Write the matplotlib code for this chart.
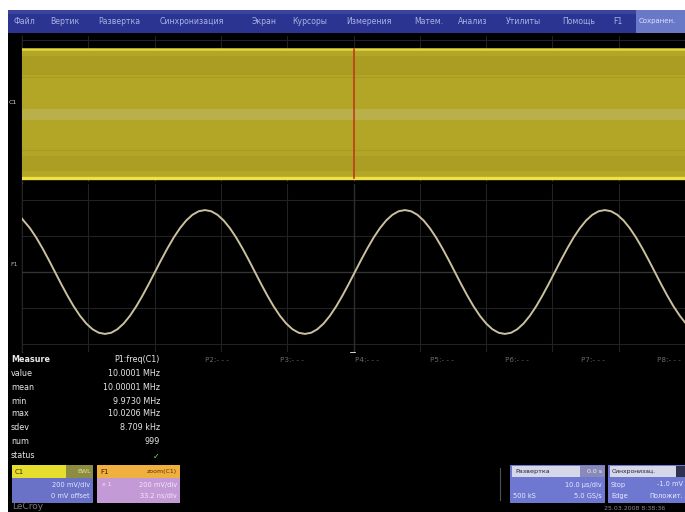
import matplotlib
matplotlib.use("Agg")
import matplotlib.pyplot as plt
from matplotlib.patches import Rectangle, Polygon

plt.rcParams['font.family'] = ['DejaVu Sans']

menu_items = ["Файл", "Вертик", "Развертка", "Синхронизация", "Экран", "Курсоры",
              "Измерения", "Матем.", "Анализ", "Утилиты", "Помощь", "F1"]
menu_active = "Сохранен."

# C1 (top trace): compressed 10 MHz sine -> filled envelope, in divisions
c1_t_ns = [0.0, 331.6]
c1_max_div = [1.75, 1.75]
c1_min_div = [-1.75, -1.75]

# F1 (zoom of C1), time in ns, amplitude in divisions
f1_t_ns = [0.0, 4.0, 7.125, 10.25, 13.375, 16.5, 19.625, 22.75, 25.875, 29.0, 32.125,
           35.25, 38.375, 41.5, 44.625, 47.75, 50.875, 54.0, 57.125, 60.25, 63.375,
           66.5, 69.625, 72.75, 75.875, 79.0, 82.125, 85.25, 88.375, 91.5, 94.625,
           97.75, 100.875, 104.0, 107.125, 110.25, 113.375, 116.5, 119.625, 122.75,
           125.875, 129.0, 132.125, 135.25, 138.375, 141.5, 144.625, 147.75, 150.875,
           154.0, 157.125, 160.25, 163.375, 166.5, 169.625, 172.75, 175.875, 179.0,
           182.125, 185.25, 188.375, 191.5, 194.625, 197.75, 200.875, 204.0, 207.125,
           210.25, 213.375, 216.5, 219.625, 222.75, 225.875, 229.0, 232.125, 235.25,
           238.375, 241.5, 244.625, 247.75, 250.875, 254.0, 257.125, 260.25, 263.375,
           266.5, 269.625, 272.75, 275.875, 279.0, 282.125, 285.25, 288.375, 291.5,
           294.625, 297.75, 300.875, 304.0, 307.125, 310.25, 313.375, 316.5, 319.625,
           322.75, 325.875, 329.0, 331.6]
f1_div = [1.48,
          1.216, 0.956, 0.658, 0.336, 0.0, -0.336, -0.658, -0.956, -1.216, -1.430,
          -1.589, -1.687, -1.72, -1.687, -1.589, -1.430, -1.216, -0.956, -0.658,
          -0.336, 0.0, 0.336, 0.658, 0.956, 1.216, 1.430, 1.589, 1.687, 1.72, 1.687,
          1.589, 1.430,
          1.216, 0.956, 0.658, 0.336, 0.0, -0.336, -0.658, -0.956, -1.216, -1.430,
          -1.589, -1.687, -1.72, -1.687, -1.589, -1.430, -1.216, -0.956, -0.658,
          -0.336, 0.0, 0.336, 0.658, 0.956, 1.216, 1.430, 1.589, 1.687, 1.72, 1.687,
          1.589, 1.430,
          1.216, 0.956, 0.658, 0.336, 0.0, -0.336, -0.658, -0.956, -1.216, -1.430,
          -1.589, -1.687, -1.72, -1.687, -1.589, -1.430, -1.216, -0.956, -0.658,
          -0.336, 0.0, 0.336, 0.658, 0.956, 1.216, 1.430, 1.589, 1.687, 1.72, 1.687,
          1.589, 1.430,
          1.216, 0.956, 0.658, 0.336, 0.0, -0.336, -0.658, -0.956, -1.216,
          -1.40]

meas_labels = ["Measure", "value", "mean", "min", "max", "sdev", "num", "status"]
meas_values = ["P1:freq(C1)", "10.0001 MHz", "10.00001 MHz", "9.9730 MHz",
               "10.0206 MHz", "8.709 kHz", "999", "✓"]
param_slots = ["P2:- - -", "P3:- - -", "P4:- - -", "P5:- - -", "P6:- - -",
               "P7:- - -", "P8:- - -"]

W, H = 685, 512
fig = plt.figure(figsize=(W / 100, H / 100), dpi=100, facecolor="white")
bg = fig.add_axes([0, 0, 1, 1])
bg.set_xlim(0, W)
bg.set_ylim(H, 0)
bg.axis("off")


def px_axes(x0, y0, x1, y1):
    return fig.add_axes([x0 / W, 1 - y1 / H, (x1 - x0) / W, (y1 - y0) / H])


def rect(x0, y0, x1, y1, color, z=1, **kw):
    bg.add_patch(Rectangle((x0, y0), x1 - x0, y1 - y0, facecolor=color,
                           edgecolor="none", zorder=z, **kw))


# screen background
rect(8, 10, W, H, "black", z=0)

# menu bar
rect(8, 10, W, 33, "#2b3490", z=1)
rect(8, 10, W, 14, "#3a44a0", z=1)
rect(636, 10, W, 33, "#6a78c8", z=2)
menu_x = [14, 50, 98, 160, 252, 292, 346, 414, 458, 506, 562, 613]
for txt, x in zip(menu_items, menu_x):
    bg.text(x, 21.5, txt, color="#a9b3e6", fontsize=5.6, va="center", ha="left", zorder=3)
bg.text(639, 21.5, menu_active, color="#dde2ff", fontsize=5.0, va="center", ha="left",
        zorder=3)

GRID = "#222222"
CENTER = "#333333"
XMAX = 331.6
div_t = [XMAX * k / 10 for k in range(11)]

# ---------------- top panel (C1) ----------------
ax1 = px_axes(22, 36, W, 182)
ax1.set_facecolor("black")
ax1.set_xlim(0, XMAX)
ax1.set_ylim(-1.86, 2.10)
for t in div_t:
    ax1.axvline(t, color=GRID, lw=0.8, zorder=1)
for v in (-1, 0, 1, 2):
    ax1.axhline(v, color=GRID, lw=0.8, zorder=1)
ax1.fill_between(c1_t_ns, c1_min_div, c1_max_div, color="#b3a526", zorder=2, lw=0)
ax1.fill_between(c1_t_ns, [1.05, 1.05], [1.55, 1.55], color="#ab9d21", zorder=3, lw=0)
ax1.fill_between(c1_t_ns, [-0.18, -0.18], [0.12, 0.12], color="#bab04a", zorder=3, lw=0)
ax1.fill_between(c1_t_ns, [-1.55, -1.55], [-1.15, -1.15], color="#ac9e23", zorder=3, lw=0)
ax1.plot(c1_t_ns, c1_max_div, color="#e6d73c", lw=1.8, zorder=4)
ax1.plot(c1_t_ns, c1_min_div, color="#f0e245", lw=2.4, zorder=4)
for v in (-1, 1):
    ax1.axhline(v, color="#a89a22", lw=0.8, zorder=3)
ax1.plot([XMAX / 2, XMAX / 2], [c1_min_div[0], c1_max_div[0]], color="#c23a1c",
         lw=1.2, zorder=5)
for s in ax1.spines.values():
    s.set_visible(False)
ax1.set_xticks([])
ax1.set_yticks([])

# ---------------- bottom panel (F1) ----------------
ax2 = px_axes(22, 184, W, 352)
ax2.set_facecolor("black")
ax2.set_xlim(0, XMAX)
ax2.set_ylim(-2.222, 2.444)
for t in div_t:
    ax2.axvline(t, color=GRID, lw=0.8, zorder=1)
for v in (-2, -1, 1, 2):
    ax2.axhline(v, color=GRID, lw=0.8, zorder=1)
ax2.axhline(0, color=CENTER, lw=1.0, zorder=1)
ax2.axvline(XMAX / 2, color="#2e2e2e", lw=1.0, zorder=1)
ax2.plot(f1_t_ns, f1_div, color="#cbc19e", lw=1.4, zorder=3, solid_joinstyle="round")
for s in ax2.spines.values():
    s.set_visible(False)
ax2.set_xticks([])
ax2.set_yticks([])

# left edge line of the grid
bg.plot([22, 22], [36, 352], color="#3a3a3a", lw=1.0, zorder=5)

# markers
bg.add_patch(Polygon([[350, 192], [356, 192], [353, 184]], closed=True,
                     facecolor="#d8d070", edgecolor="none", zorder=6))
bg.add_patch(Polygon([[350, 353], [356, 353], [353, 345]], closed=True,
                     facecolor="#d0d0d0", edgecolor="none", zorder=6))
rect(37, 83, 68, 90, "#d8d2a0", z=6, alpha=0.8)
rect(23, 102, 32, 110, "#a8b0c8", z=6, alpha=0.9)
bg.text(9, 103, "C1", color="#d0d0d0", fontsize=4.5, va="center", ha="left", zorder=6)
bg.text(10, 265, "F1", color="#b0b0b0", fontsize=4.5, va="center", ha="left", zorder=6)

# ---------------- measurement table ----------------
row_y = [359, 373, 387, 401, 414, 428, 442, 456]
for i, (lab, val, y) in enumerate(zip(meas_labels, meas_values, row_y)):
    bg.text(11, y, lab, color="#e8e8e8", fontsize=5.8, va="center", ha="left",
            fontweight="bold" if i == 0 else "normal", zorder=6)
    col = "#7fd860" if val == "✓" else "#e8e8e8"
    bg.text(160, y, val, color=col, fontsize=5.8, va="center", ha="right",
            fontweight="bold" if val == "✓" else "normal", zorder=6)
slot_x = [205, 280, 355, 430, 505, 581, 657]
for txt, x in zip(param_slots, slot_x):
    bg.text(x, 360, txt, color="#6a6a6a", fontsize=5.2, va="center", ha="left", zorder=6)

# ---------------- bottom info boxes ----------------
# C1 box
rect(12, 465, 66, 478, "#e6de2c", z=6)
rect(66, 465, 93, 478, "#8e8c40", z=6)
rect(12, 478, 93, 503, "#6a72c8", z=6)
bg.text(15, 471.5, "C1", color="#303000", fontsize=5, va="center", ha="left", zorder=7)
bg.text(91, 471.5, "BWL", color="#e0e0a0", fontsize=4.5, va="center", ha="right", zorder=7)
bg.text(90, 484.5, "200 mV/div", color="#e6e8ff", fontsize=4.8, va="center", ha="right", zorder=7)
bg.text(90, 496, "0 mV offset", color="#e6e8ff", fontsize=4.8, va="center", ha="right", zorder=7)

# F1 box
rect(97, 465, 180, 478, "#f0b040", z=6)
rect(97, 478, 180, 503, "#c49ad6", z=6)
bg.text(100, 471.5, "F1", color="#402000", fontsize=5, va="center", ha="left", zorder=7)
bg.text(177, 471.5, "zoom(C1)", color="#603000", fontsize=4.5, va="center", ha="right", zorder=7)
bg.text(102, 484.5, "x 1", color="#f4e6fa", fontsize=4.5, va="center", ha="left", zorder=7)
bg.text(177, 484.5, "200 mV/div", color="#f4e6fa", fontsize=4.8, va="center", ha="right", zorder=7)
bg.text(177, 496, "33.2 ns/div", color="#f4e6fa", fontsize=4.8, va="center", ha="right", zorder=7)

# timebase box
bg.plot([500, 500], [468, 500], color="#505050", lw=0.8, zorder=6)
rect(510, 465, 605, 503, "#6f78d0", z=6)
rect(512, 466, 580, 477, "#d6d8ea", z=7)
rect(580, 466, 605, 477, "#8a8ab8", z=7)
bg.text(515, 471.5, "Развертка", color="#202040", fontsize=4.6, va="center", ha="left", zorder=8)
bg.text(602, 471.5, "0.0 s", color="#f0f0ff", fontsize=4.5, va="center", ha="right", zorder=8)
bg.text(602, 484.5, "10.0 µs/div", color="#e8eaff", fontsize=4.8, va="center", ha="right", zorder=8)
bg.text(513, 496, "500 kS", color="#e8eaff", fontsize=4.8, va="center", ha="left", zorder=8)
bg.text(602, 496, "5.0 GS/s", color="#e8eaff", fontsize=4.8, va="center", ha="right", zorder=8)

# trigger box
rect(608, 465, W, 503, "#6f78d0", z=6)
rect(610, 466, 676, 477, "#d6d8ea", z=7)
rect(676, 466, W, 477, "#303050", z=7)
bg.text(612, 471.5, "Синхронизац.", color="#202040", fontsize=4.4, va="center", ha="left",
        zorder=8)
bg.text(611, 484.5, "Stop", color="#e8eaff", fontsize=4.8, va="center", ha="left", zorder=8)
bg.text(683, 484.5, "-1.0 mV", color="#e8eaff", fontsize=4.8, va="center", ha="right", zorder=8)
bg.text(611, 496, "Edge", color="#e8eaff", fontsize=4.8, va="center", ha="left", zorder=8)
bg.text(683, 496, "Положит.", color="#e8eaff", fontsize=4.8, va="center", ha="right", zorder=8)

# footer
bg.text(12, 511, "LeCroy", color="#7a7a7a", fontsize=6.5, va="bottom", ha="left", zorder=6)
bg.text(665, 508, "25.03.2008 8:38:36", color="#8a8a8a", fontsize=4.5, va="center",
        ha="right", zorder=6)

fig.savefig("out.png", dpi=100, facecolor="white")
